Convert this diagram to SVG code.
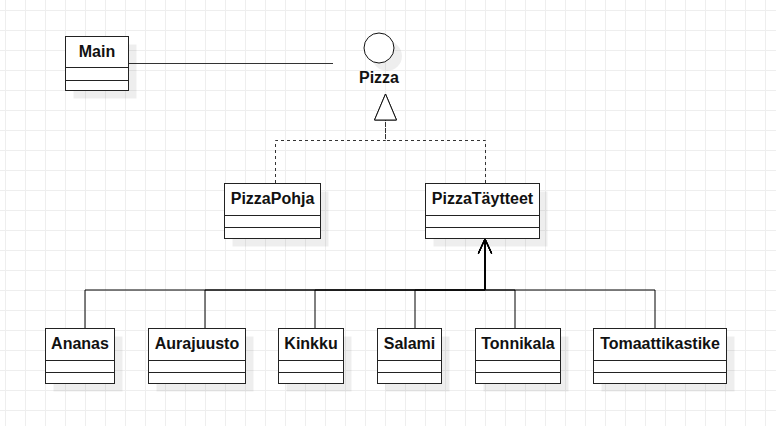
<svg xmlns="http://www.w3.org/2000/svg" width="776" height="426" viewBox="0 0 776 426">
<style>
.box{fill:#fff;stroke:#222;stroke-width:1}
.sh{fill:#000;fill-opacity:0.065}
.div{stroke:#222;stroke-width:1;fill:none}
.t{font-family:"Liberation Sans",Arial,sans-serif;font-size:16px;font-weight:bold;fill:#111;text-anchor:middle}
.e{fill:none;stroke:#000;stroke-width:1}
.l{fill:none;stroke:#333;stroke-width:1}
.d{fill:none;stroke:#333;stroke-width:1;stroke-dasharray:3 3}
</style>
<defs>
<pattern id="grid" width="20" height="20" patternUnits="userSpaceOnUse">
<path d="M5.5 0V20M0 10.5H20" stroke="#eeeeee" stroke-width="1" fill="none"/>
</pattern>
<marker id="open" markerUnits="userSpaceOnUse" markerWidth="20" markerHeight="20" viewBox="-16 -8 18 16" refX="0" refY="0" orient="auto" overflow="visible">
<path d="M-13,-6 L0,0 L-13,6" fill="none" stroke="#000" stroke-width="1"/>
</marker>
<marker id="tri" markerUnits="userSpaceOnUse" markerWidth="30" markerHeight="30" viewBox="-28 -13 30 26" refX="0" refY="0" orient="auto" overflow="visible">
<path d="M-26,-11 L0,0 L-26,11 Z" fill="#fff" stroke="#111" stroke-width="1"/>
</marker>
</defs>
<rect width="776" height="426" fill="#fff"/>
<rect width="776" height="426" fill="url(#grid)"/>

<g id="connectors">
<path class="l" d="M129 63.5H333"/>
<path class="d" d="M275.5 183V140.5H385.5V94" marker-end="url(#tri)"/>
<path class="d" d="M485.5 183V140.5H385.5V94" marker-end="url(#tri)"/>
<path class="e" d="M85 328V290H485V239" marker-end="url(#open)"/>
<path class="e" d="M205 328V290H485V239" marker-end="url(#open)"/>
<path class="e" d="M315 328V290H485V239" marker-end="url(#open)"/>
<path class="e" d="M415 328V290H485V239" marker-end="url(#open)"/>
<path class="e" d="M515 328V290H485V239" marker-end="url(#open)"/>
<path class="e" d="M655 328V290H485V239" marker-end="url(#open)"/>
</g>

<g id="Main">
<rect class="sh" x="73.5" y="44.5" width="63" height="54"/>
<rect class="box" x="65.5" y="36.5" width="63" height="54"/>
<path class="div" d="M65.5 67.5H128.5M65.5 80.5H128.5"/>
<text class="t" x="97" y="57">Main</text>
</g>

<g id="Pizza">
<circle class="sh" cx="387" cy="56" r="15"/>
<circle cx="379" cy="48" r="15" fill="#fff" stroke="#111" stroke-width="1"/>
<text class="t" x="379" y="82.5">Pizza</text>
</g>

<g id="PizzaPohja">
<rect class="sh" x="232.5" y="191.5" width="96" height="55"/>
<rect class="box" x="224.5" y="183.5" width="96" height="55"/>
<path class="div" d="M224.5 215.5H320.5M224.5 227.5H320.5"/>
<text class="t" x="272.5" y="204">PizzaPohja</text>
</g>

<g id="PizzaTaytteet">
<rect class="sh" x="433.5" y="191.5" width="114" height="55"/>
<rect class="box" x="425.5" y="183.5" width="114" height="55"/>
<path class="div" d="M425.5 215.5H539.5M425.5 227.5H539.5"/>
<text class="t" x="482.5" y="204">PizzaTäytteet</text>
</g>

<g id="Ananas">
<rect class="sh" x="53.5" y="336.5" width="69" height="55"/>
<rect class="box" x="45.5" y="328.5" width="69" height="55"/>
<path class="div" d="M45.5 360.5H114.5M45.5 372.5H114.5"/>
<text class="t" x="80" y="349">Ananas</text>
</g>

<g id="Aurajuusto">
<rect class="sh" x="156.5" y="336.5" width="97" height="55"/>
<rect class="box" x="148.5" y="328.5" width="97" height="55"/>
<path class="div" d="M148.5 360.5H245.5M148.5 372.5H245.5"/>
<text class="t" x="197" y="349">Aurajuusto</text>
</g>

<g id="Kinkku">
<rect class="sh" x="286.5" y="336.5" width="65" height="55"/>
<rect class="box" x="278.5" y="328.5" width="65" height="55"/>
<path class="div" d="M278.5 360.5H343.5M278.5 372.5H343.5"/>
<text class="t" x="311" y="349">Kinkku</text>
</g>

<g id="Salami">
<rect class="sh" x="385.5" y="336.5" width="64" height="55"/>
<rect class="box" x="377.5" y="328.5" width="64" height="55"/>
<path class="div" d="M377.5 360.5H441.5M377.5 372.5H441.5"/>
<text class="t" x="409.5" y="349">Salami</text>
</g>

<g id="Tonnikala">
<rect class="sh" x="483.5" y="336.5" width="85" height="55"/>
<rect class="box" x="475.5" y="328.5" width="85" height="55"/>
<path class="div" d="M475.5 360.5H560.5M475.5 372.5H560.5"/>
<text class="t" x="518" y="349">Tonnikala</text>
</g>

<g id="Tomaattikastike">
<rect class="sh" x="601.5" y="336.5" width="133" height="55"/>
<rect class="box" x="593.5" y="328.5" width="133" height="55"/>
<path class="div" d="M593.5 360.5H726.5M593.5 372.5H726.5"/>
<text class="t" x="660" y="349">Tomaattikastike</text>
</g>
</svg>
